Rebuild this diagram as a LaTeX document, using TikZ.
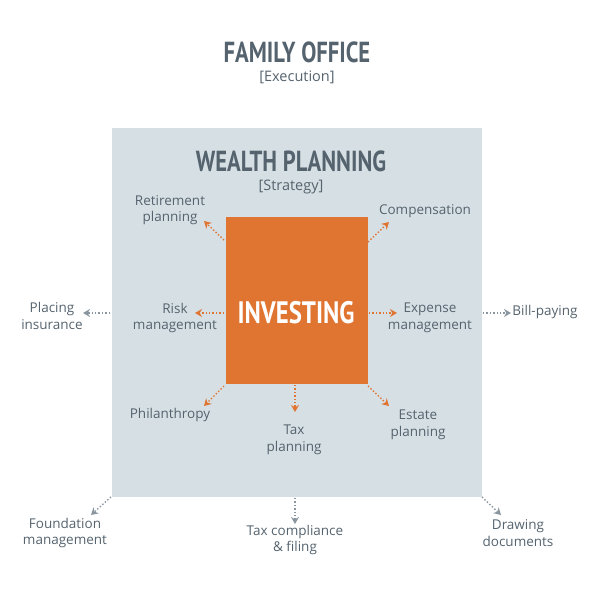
\documentclass[tikz,border=0pt]{standalone}
\usepackage{fontspec}
\setmainfont{Open Sans}
\newfontfamily\headfont{PT Sans}
\usetikzlibrary{arrows.meta}
\definecolor{txt}{HTML}{55636E}
\definecolor{bgsq}{HTML}{D6DFE4}
\definecolor{org}{HTML}{E07431}
\definecolor{arrg}{HTML}{8A969F}
\tikzset{
 lbl/.style={text=txt,font=\fontsize{13.5}{16.5}\selectfont,align=center,inner sep=0pt},
 oarr/.style={org,line width=1.4pt,dotted,-{Stealth[length=7pt,width=8pt,fill=org]}},
 garr/.style={arrg,line width=1.4pt,dotted,-{Stealth[length=7pt,width=8pt,fill=arrg]}},
}
\begin{document}
\begin{tikzpicture}[x=1pt,y=-1pt]
\useasboundingbox (0,0) rectangle (600,600);
\node[fill=bgsq,minimum width=370pt,minimum height=369pt,inner sep=0pt] (gray) at (296.5,312) {};
\node[fill=org,minimum width=142pt,minimum height=167pt,inner sep=0pt] (inv) at (296.5,300) {};
\node[text=white,font=\headfont\bfseries\fontsize{31}{31}\selectfont,xscale=0.8,inner sep=0pt] (invt) at (296,313) {INVESTING};
\node[text=txt,font=\headfont\bfseries\fontsize{29}{29}\selectfont,xscale=0.78,inner sep=0pt] (fo) at (297,52) {FAMILY OFFICE};
\node[lbl,font=\fontsize{14.5}{16}\selectfont] (ex) at (297,77) {[Execution]};
\node[text=txt,font=\headfont\bfseries\fontsize{29}{29}\selectfont,xscale=0.78,inner sep=0pt] (wp) at (291,161) {WEALTH PLANNING};
\node[lbl,font=\fontsize{14.5}{16}\selectfont] (st) at (291,187) {[Strategy]};
% orange labels
\node[lbl] (ret) at (170,210) {Retirement\\planning};
\node[lbl] (comp) at (425,211) {Compensation};
\node[lbl] (risk) at (175,318) {Risk\\management};
\node[lbl] (exp) at (430,318) {Expense\\management};
\node[lbl] (phil) at (170,415) {Philanthropy};
\node[lbl] (taxp) at (294,440) {Tax\\planning};
\node[lbl] (est) at (418,425) {Estate\\planning};
% gray labels
\node[lbl] (plac) at (52,316) {Placing\\insurance};
\node[lbl] (bill) at (545,312) {Bill-paying};
\node[lbl] (found) at (65,533) {Foundation\\management};
\node[lbl] (taxc) at (295,540) {Tax compliance\\\& filing};
\node[lbl] (draw) at (518,533) {Drawing\\documents};
% coordinates
\coordinate (a1) at (224,240); \coordinate (b1) at (204,221);
\coordinate (a2) at (368,242); \coordinate (b2) at (389,222);
\coordinate (a3) at (224,313); \coordinate (b3) at (195,313);
\coordinate (a4) at (369,313); \coordinate (b4) at (397,313);
\coordinate (a5) at (224,386); \coordinate (b5) at (204,406);
\coordinate (a6) at (295,385); \coordinate (b6) at (295,412);
\coordinate (a7) at (368,386); \coordinate (b7) at (389,406);
\draw[oarr] (a1)--(b1); \draw[oarr] (a2)--(b2); \draw[oarr] (a3)--(b3);
\draw[oarr] (a4)--(b4); \draw[oarr] (a5)--(b5); \draw[oarr] (a6)--(b6);
\draw[oarr] (a7)--(b7);
\coordinate (c1) at (110,313); \coordinate (d1) at (83,313);
\coordinate (c2) at (483,313); \coordinate (d2) at (511,313);
\coordinate (c3) at (111,497); \coordinate (d3) at (91,515);
\coordinate (c4) at (295,498); \coordinate (d4) at (295,524);
\coordinate (c5) at (482,497); \coordinate (d5) at (501,515);
\draw[garr] (c1)--(d1); \draw[garr] (c2)--(d2); \draw[garr] (c3)--(d3);
\draw[garr] (c4)--(d4); \draw[garr] (c5)--(d5);
\end{tikzpicture}
\end{document}
